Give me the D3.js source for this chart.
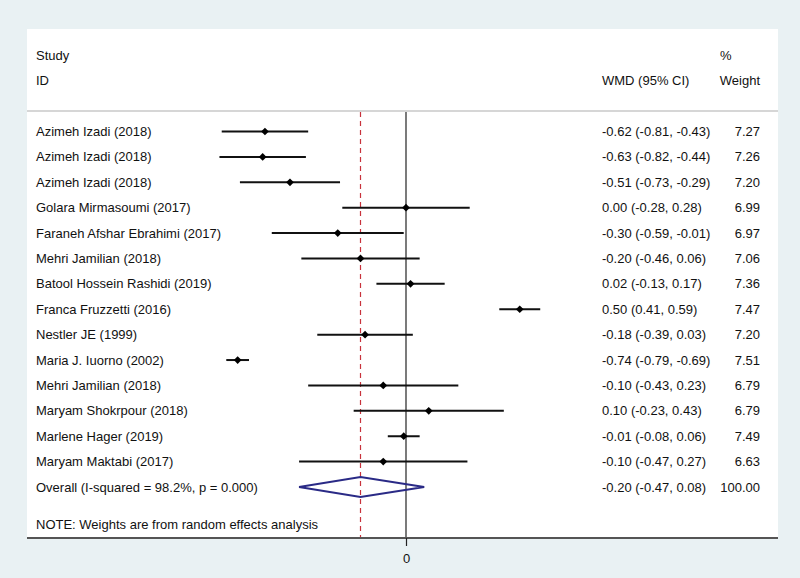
<!DOCTYPE html>
<html><head><meta charset="utf-8">
<script src="https://cdn.jsdelivr.net/npm/d3@7"></script>
<style>body{margin:0;background:#e9f1f3;}svg{display:block;}</style>
</head><body>
<svg id="c" width="800" height="578"></svg>
<script>
const studies = ["Azimeh Izadi (2018)","Azimeh Izadi (2018)","Azimeh Izadi (2018)","Golara Mirmasoumi (2017)","Faraneh Afshar Ebrahimi (2017)","Mehri Jamilian (2018)","Batool Hossein Rashidi (2019)","Franca Fruzzetti (2016)","Nestler JE (1999)","Maria J. Iuorno (2002)","Mehri Jamilian (2018)","Maryam Shokrpour (2018)","Marlene Hager (2019)","Maryam Maktabi (2017)"];
const est = [-0.62,-0.63,-0.51,0.00,-0.30,-0.20,0.02,0.50,-0.18,-0.74,-0.10,0.10,-0.01,-0.10];
const lo  = [-0.81,-0.82,-0.73,-0.28,-0.59,-0.46,-0.13,0.41,-0.39,-0.79,-0.43,-0.23,-0.08,-0.47];
const hi  = [-0.43,-0.44,-0.29,0.28,-0.01,0.06,0.17,0.59,0.03,-0.69,0.23,0.43,0.06,0.27];
const weights = ["7.27","7.26","7.20","6.99","6.97","7.06","7.36","7.47","7.20","7.51","6.79","6.79","7.49","6.63"];
const overall = {label:"Overall  (I-squared = 98.2%, p = 0.000)", est:-0.20, lo:-0.47, hi:0.08, weight:"100.00"};
const xTicks = [0];

const svg = d3.select("#c");
const font = "'Liberation Sans', Arial, sans-serif";
const fs = 13;
const panel = {x0:27, x1:778, y0:29, y1:538};

svg.append("rect").attr("x",0).attr("y",0).attr("width",800).attr("height",578).attr("fill","#e9f1f3");
svg.append("rect").attr("x",panel.x0).attr("y",panel.y0).attr("width",panel.x1-panel.x0).attr("height",panel.y1-panel.y0).attr("fill","#ffffff");

const k = 227.5, x0 = 406;
const x = d3.scaleLinear().domain([-0.8, 0.6]).range([x0 - 0.8*k, x0 + 0.6*k]);
const rows = d3.range(studies.length + 1);
const y = d3.scalePoint().domain(rows).range([131.5, 487]);

const f2 = v => (v < 0 ? "-" : "") + Math.abs(v).toFixed(2);
const ciText = (e,l,h) => `${f2(e)} (${f2(l)}, ${f2(h)})`;

const txt = (t, tx, ty, anchor) => svg.append("text").attr("x",tx).attr("y",ty).attr("dy","0.35em")
  .attr("font-family",font).attr("font-size",fs).attr("fill","#111").attr("text-anchor",anchor||"start").text(t);
const colCI = 602, colW = 760;
txt("Study",36,55); txt("ID",36,80);
txt("WMD (95% CI)",colCI,80); txt("%",720,55); txt("Weight",colW,80,"end");
svg.append("line").attr("x1",panel.x0).attr("x2",panel.x1).attr("y1",111).attr("y2",111).attr("stroke","#d6d6d6").attr("stroke-width",2);

svg.append("line").attr("x1",x(0)).attr("x2",x(0)).attr("y1",112).attr("y2",panel.y1).attr("stroke","#222").attr("stroke-width",1.2);
svg.append("line").attr("x1",x(overall.est)).attr("x2",x(overall.est)).attr("y1",112).attr("y2",panel.y1)
  .attr("stroke","#c8323c").attr("stroke-width",1.2).attr("stroke-dasharray","5,4");

const data = studies.map((s,i)=>({s,e:est[i],l:lo[i],h:hi[i],w:weights[i],i}));
const g = svg.append("g");
g.selectAll("line.ci").data(data).enter().append("line").attr("class","ci")
  .attr("x1",d=>x(d.l)).attr("x2",d=>x(d.h)).attr("y1",d=>y(d.i)).attr("y2",d=>y(d.i))
  .attr("stroke","#111").attr("stroke-width",2);
const sym = d3.symbol().type(d3.symbolDiamond2).size(38);
g.selectAll("path.pt").data(data).enter().append("path").attr("class","pt")
  .attr("transform",d=>`translate(${x(d.e)},${y(d.i)})`).attr("d",sym).attr("fill","#000");
data.forEach(d=>{
  txt(d.s,36,y(d.i));
  txt(ciText(d.e,d.l,d.h),colCI,y(d.i));
  txt(d.w,colW,y(d.i),"end");
});

const oi = studies.length, oy = y(oi);
svg.append("path").attr("d",`M${x(overall.lo)},${oy} L${x(overall.est)},${oy-10} L${x(overall.hi)},${oy} L${x(overall.est)},${oy+10} Z`)
  .attr("fill","none").attr("stroke","#2a2a86").attr("stroke-width",2);
txt(overall.label,36,oy);
txt(ciText(overall.est,overall.lo,overall.hi),colCI,oy);
txt(overall.weight,colW,oy,"end");
txt("NOTE: Weights are from random effects analysis",36,524);

svg.append("line").attr("x1",panel.x0).attr("x2",panel.x1).attr("y1",panel.y1).attr("y2",panel.y1).attr("stroke","#555").attr("stroke-width",2);
const axis = d3.axisBottom(x).tickValues(xTicks).tickFormat(d3.format("d")).tickSize(8).tickPadding(8);
const ag = svg.append("g").attr("transform",`translate(0,${panel.y1})`).call(axis);
ag.select(".domain").remove();
ag.selectAll(".tick line").attr("stroke","#222").attr("stroke-width",1.2);
ag.selectAll(".tick text").attr("font-family",font).attr("font-size",fs).attr("fill","#111");
</script>
</body></html>
